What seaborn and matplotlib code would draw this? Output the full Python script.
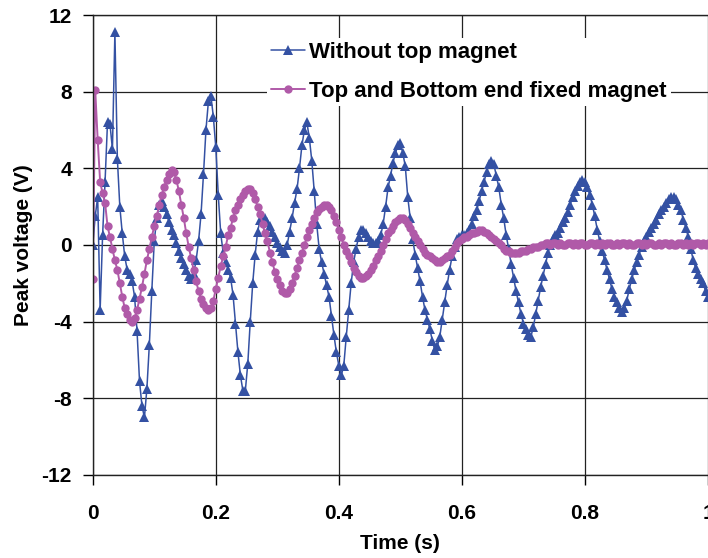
import numpy as np
import matplotlib
matplotlib.use("Agg")
import matplotlib.pyplot as plt
import seaborn as sns

# sampling interval of both traces (s)
sample_dt = 0.004

# Without top magnet (V), one value per sample
without_top = [
    0.0, 1.5, 2.5, -3.4, 0.5, 3.3, 6.4, 6.3, 5.0, 11.1,
    4.5, 2.0, 0.6, -0.6, -1.3, -1.5, -1.9, -2.7, -4.5, -7.1,
    -8.4, -9.0, -7.5, -5.2, -2.4, 0.2, 1.4, 2.1, 2.3, 2.0,
    1.6, 1.2, 0.8, 0.5, 0.1, -0.3, -0.7, -1.0, -1.3, -1.6,
    -1.8, -1.5, -0.8, 0.2, 1.6, 3.7, 6.0, 7.5, 7.8, 6.7,
    5.1, 2.6, 0.6, -0.4, -0.9, -1.3, -1.7, -2.6, -4.1, -5.6,
    -6.8, -7.6, -7.6, -6.2, -4.0, -2.0, -0.5, 0.7, 1.3, 1.4,
    1.4, 1.2, 1.0, 0.7, 0.4, 0.1, -0.1, -0.3, -0.4, 0.0,
    0.7, 1.4, 2.2, 2.9, 4.0, 5.2, 6.0, 6.4, 5.6, 4.4,
    2.8, 1.1, -0.2, -0.9, -1.5, -2.1, -2.7, -3.7, -4.7, -5.6,
    -6.3, -6.8, -6.3, -4.8, -3.4, -2.0, -0.9, -0.2, 0.4, 0.8,
    0.8, 0.6, 0.4, 0.2, 0.1, 0.1, 0.2, 0.5, 1.1, 2.0,
    3.0, 3.6, 4.3, 4.8, 5.2, 5.3, 4.8, 4.1, 2.5, 1.4,
    0.3, -0.5, -1.2, -1.9, -2.7, -3.4, -3.9, -4.4, -5.0, -5.5,
    -5.3, -4.8, -3.9, -3.0, -2.1, -1.3, -0.6, -0.1, 0.3, 0.4,
    0.5, 0.5, 0.6, 0.8, 1.1, 1.5, 1.8, 2.3, 2.8, 3.3,
    3.8, 4.2, 4.4, 4.2, 3.6, 3.0, 2.1, 1.4, 0.5, -0.2,
    -1.0, -1.7, -2.4, -3.0, -3.6, -4.1, -4.4, -4.7, -4.8, -4.3,
    -3.6, -2.9, -2.2, -1.6, -1.0, -0.4, 0.0, 0.3, 0.5, 0.6,
    0.9, 1.2, 1.4, 1.7, 2.1, 2.5, 2.8, 3.1, 3.3, 3.4,
    3.3, 3.0, 2.6, 2.1, 1.5, 0.8, 0.2, -0.3, -0.8, -1.3,
    -1.8, -2.3, -2.7, -3.0, -3.3, -3.5, -3.3, -2.9, -2.3, -1.8,
    -1.3, -0.9, -0.5, -0.1, 0.2, 0.4, 0.7, 0.9, 1.1, 1.3,
    1.6, 1.8, 2.0, 2.2, 2.4, 2.5, 2.5, 2.4, 2.1, 1.8,
    1.3, 0.9, 0.4, -0.2, -0.8, -1.2, -1.5, -1.8, -2.0, -2.4,
    -2.7,
]

# Top and Bottom end fixed magnet (V)
top_bottom = [
    -1.8, 8.1, 5.5, 3.3, 2.7, 2.2, 1.0, 0.4, -0.2, -0.8,
    -1.3, -2.0, -2.7, -3.3, -3.6, -3.9, -4.0, -3.8, -3.4, -2.8,
    -2.2, -1.5, -0.8, -0.2, 0.4, 1.0, 1.5, 2.1, 2.6, 3.0,
    3.4, 3.7, 3.9, 3.8, 3.4, 2.8, 2.1, 1.4, 0.6, -0.1,
    -0.7, -1.3, -1.9, -2.4, -2.8, -3.1, -3.3, -3.4, -3.3, -2.9,
    -2.3, -1.7, -1.1, -0.6, -0.1, 0.5, 0.9, 1.4, 1.8, 2.1,
    2.4, 2.6, 2.8, 2.9, 2.9, 2.7, 2.4, 2.0, 1.6, 1.1,
    0.6, 0.2, -0.4, -0.9, -1.4, -1.8, -2.1, -2.4, -2.5, -2.5,
    -2.3, -2.0, -1.6, -1.2, -0.8, -0.4, 0.0, 0.4, 0.8, 1.1,
    1.4, 1.7, 1.9, 2.0, 2.1, 2.1, 2.0, 1.8, 1.5, 1.2,
    0.8, 0.4, 0.0, -0.3, -0.6, -0.9, -1.2, -1.4, -1.6, -1.7,
    -1.7, -1.6, -1.5, -1.3, -1.1, -0.8, -0.6, -0.3, 0.0, 0.3,
    0.6, 0.8, 1.0, 1.2, 1.3, 1.4, 1.4, 1.3, 1.1, 0.9,
    0.6, 0.4, 0.2, 0.0, -0.2, -0.4, -0.5, -0.6, -0.7, -0.8,
    -0.9, -0.9, -0.8, -0.7, -0.6, -0.5, -0.3, -0.1, 0.1, 0.2,
    0.3, 0.4, 0.4, 0.5, 0.6, 0.6, 0.7, 0.8, 0.8, 0.7,
    0.6, 0.5, 0.4, 0.3, 0.2, 0.1, 0.0, -0.2, -0.3, -0.3,
    -0.4, -0.4, -0.4, -0.4, -0.3, -0.3, -0.3, -0.2, -0.2, -0.1,
    -0.1, -0.1, 0.0, 0.0, 0.1, 0.1, 0.0, 0.1, 0.1, 0.0,
    0.1, 0.0, 0.0, 0.1, 0.1, 0.0, 0.1, 0.0, 0.1, 0.1,
    0.0, 0.0, 0.1, 0.1, 0.0, 0.1, 0.0, 0.1, 0.0, 0.1,
    0.1, 0.0, 0.0, 0.1, 0.0, 0.1, 0.1, 0.0, 0.1, 0.0,
    0.0, 0.1, 0.1, 0.0, 0.1, 0.0, 0.1, 0.1, 0.0, 0.0,
    0.1, 0.0, 0.1, 0.1, 0.0, 0.1, 0.0, 0.0, 0.1, 0.1,
    0.0, 0.1, 0.0, 0.1, 0.0, 0.1, 0.1, 0.0, 0.1, 0.0,
    0.1,
]

labels = ["Without top magnet", "Top and Bottom end fixed magnet"]
xticks = [0, 0.2, 0.4, 0.6, 0.8, 1]
xticklabels = ["0", "0.2", "0.4", "0.6", "0.8", "1"]
yticks = [-12, -8, -4, 0, 4, 8, 12]

t_blue = np.arange(len(without_top)) * sample_dt
t_pink = np.arange(len(top_bottom)) * sample_dt

sns.set_theme(style="ticks")
plt.rcParams["font.family"] = ["Liberation Sans", "DejaVu Sans"]
plt.rcParams["font.weight"] = "bold"
plt.rcParams["axes.unicode_minus"] = False
for key in ["text.color", "axes.labelcolor", "xtick.color", "ytick.color"]:
    plt.rcParams[key] = "black"

fig = plt.figure(figsize=(7.08, 5.58), dpi=100)
ax = fig.add_axes([0.131, 0.149, 0.869, 0.824])

blue = "#3451a3"
pink = "#b05aa8"

sns.lineplot(x=t_blue, y=without_top, ax=ax, color=blue, lw=1.1,
             marker="^", markersize=6.5, markeredgewidth=0,
             label=labels[0], sort=False, estimator=None)
sns.lineplot(x=t_pink, y=top_bottom, ax=ax, color=pink, lw=1.4,
             marker="o", markersize=6, markeredgewidth=0,
             label=labels[1], sort=False, estimator=None)

ax.set_xlim(0, 1)
ax.set_ylim(-12, 12)
ax.set_xticks(xticks)
ax.set_xticklabels(xticklabels)
ax.set_yticks(yticks)
ax.grid(True, color="#222222", lw=0.9)
ax.set_axisbelow(True)
ax.tick_params(axis="both", direction="out", length=7, width=1,
               color="black", labelsize=15)
ax.tick_params(axis="x", pad=14)
ax.tick_params(axis="y", pad=8)
for lab in ax.get_xticklabels() + ax.get_yticklabels():
    lab.set_fontweight("bold")

ax.spines["right"].set_visible(False)
for side in ["left", "bottom", "top"]:
    ax.spines[side].set_color("#222222")
    ax.spines[side].set_linewidth(1.0)

ax.set_xlabel("Time (s)", fontsize=15, fontweight="bold", labelpad=8)
ax.set_ylabel("Peak voltage (V)", fontsize=15, fontweight="bold", labelpad=6)

leg = ax.legend(loc="upper left", bbox_to_anchor=(0.265, 0.975),
                frameon=True, fancybox=False, framealpha=1,
                facecolor="white", edgecolor="none",
                prop={"size": 16, "weight": "bold"},
                handlelength=1.5, handletextpad=0.2,
                labelspacing=0.8, borderpad=0.2)

fig.savefig("out.png", dpi=100)
